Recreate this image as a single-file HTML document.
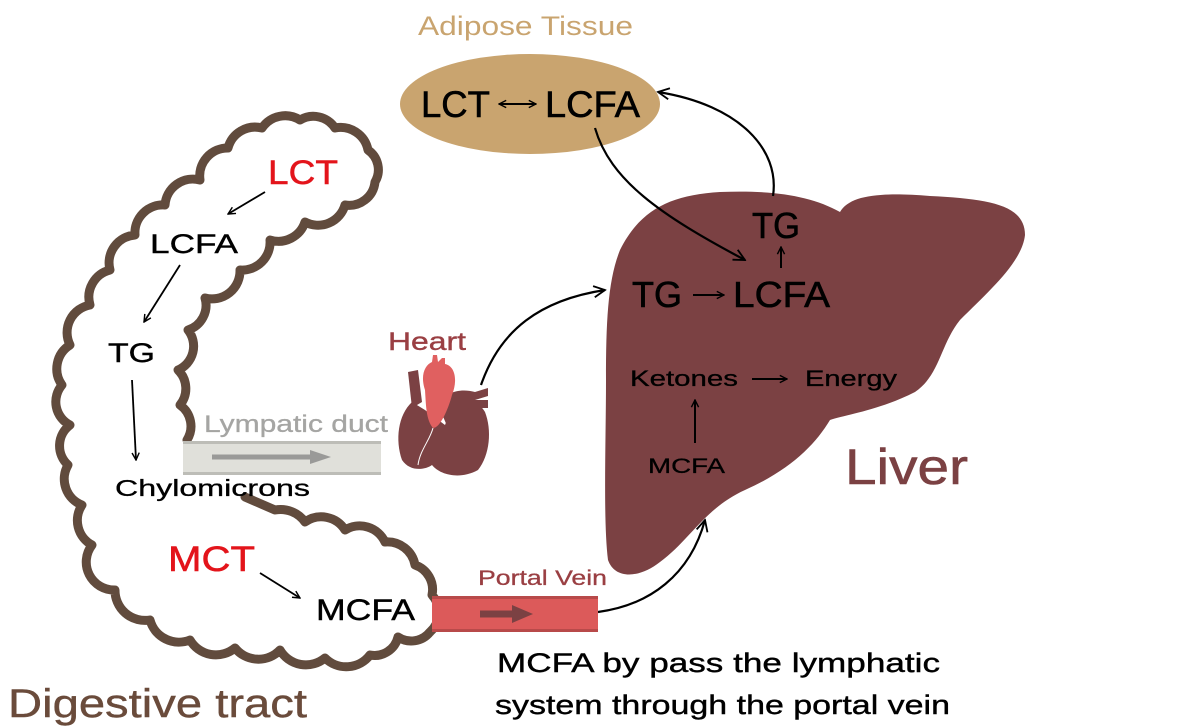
<!DOCTYPE html>
<html><head><meta charset="utf-8"><style>
html,body{margin:0;padding:0;background:#fff;}
svg{display:block;}
text{font-family:"Liberation Sans",sans-serif;}
</style></head><body>
<svg width="1200" height="728" viewBox="0 0 1200 728" xmlns="http://www.w3.org/2000/svg">
<defs>
<marker id="ah" viewBox="0 0 10 10" refX="9" refY="5" markerWidth="9" markerHeight="9" orient="auto-start-reverse" markerUnits="userSpaceOnUse">
<path d="M1 1 L9 5 L1 9" fill="none" stroke="#000" stroke-width="1.6"/>
</marker>
<marker id="ah2" viewBox="0 0 10 10" refX="9" refY="5" markerWidth="14" markerHeight="14" orient="auto" markerUnits="userSpaceOnUse">
<path d="M1 1 L9 5 L1 9" fill="none" stroke="#000" stroke-width="1.3"/>
</marker>
</defs>

<!-- Adipose -->
<ellipse cx="530" cy="104" rx="130" ry="50" fill="#c9a46f"/>
<text x="418" y="35" font-size="27" fill="#c9a46f" textLength="215" lengthAdjust="spacingAndGlyphs">Adipose Tissue</text>
<text x="421" y="117" font-size="37" fill="#000" stroke="#000" stroke-width="0.6" textLength="69" lengthAdjust="spacingAndGlyphs">LCT</text>
<path d="M499 104 L536 104" stroke="#000" stroke-width="2" marker-end="url(#ah)" marker-start="url(#ah)"/>
<text x="545" y="117" font-size="37" fill="#000" stroke="#000" stroke-width="0.6" textLength="95" lengthAdjust="spacingAndGlyphs">LCFA</text>

<!-- Liver -->
<path d="M620 250 C640 210 670 195 720 192 C770 190 810 195 840 212 C850 195 880 192 930 196 C990 199 1025 205 1025 235 C1022 262 990 290 960 320 C940 345 940 375 915 392 C880 410 845 415 830 420 C815 445 790 470 745 490 C705 508 690 540 660 562 C640 578 615 580 608 560 C603 520 606 440 606 380 C606 320 608 280 620 250 Z" fill="#7b4143"/>
<text x="752" y="238" font-size="36" fill="#000" stroke="#000" stroke-width="0.6" textLength="48" lengthAdjust="spacingAndGlyphs">TG</text>
<path d="M781 268 L781 247" stroke="#000" stroke-width="2" marker-end="url(#ah)"/>
<text x="632" y="307" font-size="36" fill="#000" stroke="#000" stroke-width="0.6" textLength="50" lengthAdjust="spacingAndGlyphs">TG</text>
<path d="M693 295 L724 295" stroke="#000" stroke-width="2" marker-end="url(#ah)"/>
<text x="733" y="307" font-size="36" fill="#000" stroke="#000" stroke-width="0.6" textLength="97" lengthAdjust="spacingAndGlyphs">LCFA</text>
<text x="630" y="386" font-size="22" fill="#000" stroke="#000" stroke-width="0.3" textLength="108" lengthAdjust="spacingAndGlyphs">Ketones</text>
<path d="M752 379 L787 379" stroke="#000" stroke-width="2" marker-end="url(#ah)"/>
<text x="805" y="386" font-size="22" fill="#000" stroke="#000" stroke-width="0.3" textLength="92" lengthAdjust="spacingAndGlyphs">Energy</text>
<path d="M695 443 L695 400" stroke="#000" stroke-width="2" marker-end="url(#ah)"/>
<text x="648" y="473" font-size="21" fill="#000" stroke="#000" stroke-width="0.3" textLength="77" lengthAdjust="spacingAndGlyphs">MCFA</text>
<text x="845" y="484" font-size="50" fill="#7b4143" stroke="#7b4143" stroke-width="0.6" textLength="123" lengthAdjust="spacingAndGlyphs">Liver</text>

<!-- curved arrows -->
<path d="M595 128 C610 180 660 215 745 260" fill="none" stroke="#000" stroke-width="2.2" marker-end="url(#ah2)"/>
<path d="M773 196 C780 150 740 105 658 92" fill="none" stroke="#000" stroke-width="2.2" marker-end="url(#ah2)"/>
<path d="M481 385 C500 330 540 300 605 290" fill="none" stroke="#000" stroke-width="2.2" marker-end="url(#ah2)"/>
<path d="M598 612 C650 605 690 575 705 520" fill="none" stroke="#000" stroke-width="2.2" marker-end="url(#ah2)"/>

<!-- Gut outline -->
<path d="M187 440 A26 26 0 0 0 180 405 A26 26 0 0 0 178 370 A26 26 0 0 0 188 330 A26 26 0 0 0 205 298 A28 28 0 0 0 240 270 A28 28 0 0 0 270 240 A28 28 0 0 0 305 222 A28 28 0 0 0 345 205 A26 26 0 0 0 375 182 A24 24 0 0 0 368 150 A28 28 0 0 0 335 128 A26 26 0 0 0 300 120 A28 28 0 0 0 262 128 A28 28 0 0 0 228 148 A28 28 0 0 0 200 180 A28 28 0 0 0 165 205 A28 28 0 0 0 135 235 A28 28 0 0 0 110 270 A28 28 0 0 0 90 305 A28 28 0 0 0 70 345 A28 28 0 0 0 62 385 A26 26 0 0 0 70 425 A26 26 0 0 0 68 465 A28 28 0 0 0 82 505 A28 28 0 0 0 92 545 A28 28 0 0 0 115 590 A30 30 0 0 0 150 620 A30 30 0 0 0 190 640 A30 30 0 0 0 235 648 A30 30 0 0 0 280 650 A30 30 0 0 0 325 658 A30 30 0 0 0 370 655 A24 24 0 0 0 398 637 A24 24 0 0 0 430 632 A26 26 0 0 0 432 595 A26 26 0 0 0 415 565 A28 28 0 0 0 385 542 A28 28 0 0 0 345 530 A28 28 0 0 0 305 522 A30 30 0 0 0 275 510 L245 497" fill="none" stroke="#614b3d" stroke-width="9" stroke-linecap="round" stroke-linejoin="round"/>

<text x="268" y="184" font-size="34" fill="#e3141b" stroke="#e3141b" stroke-width="0.5" textLength="70" lengthAdjust="spacingAndGlyphs">LCT</text>
<path d="M265 192 L228 214" stroke="#000" stroke-width="1.8" marker-end="url(#ah)"/>
<text x="150" y="253" font-size="27" fill="#000" stroke="#000" stroke-width="0.4" textLength="88" lengthAdjust="spacingAndGlyphs">LCFA</text>
<path d="M180 265 L144 322" stroke="#000" stroke-width="1.8" marker-end="url(#ah)"/>
<text x="108" y="362" font-size="27" fill="#000" stroke="#000" stroke-width="0.4" textLength="47" lengthAdjust="spacingAndGlyphs">TG</text>
<path d="M132 380 L136 460" stroke="#000" stroke-width="1.8" marker-end="url(#ah)"/>
<text x="115" y="496" font-size="23" fill="#000" stroke="#000" stroke-width="0.3" textLength="195" lengthAdjust="spacingAndGlyphs">Chylomicrons</text>
<text x="168" y="571" font-size="35" fill="#e3141b" stroke="#e3141b" stroke-width="0.5" textLength="87" lengthAdjust="spacingAndGlyphs">MCT</text>
<path d="M260 573 L300 598" stroke="#000" stroke-width="1.8" marker-end="url(#ah)"/>
<text x="316" y="620" font-size="30" fill="#000" stroke="#000" stroke-width="0.4" textLength="99" lengthAdjust="spacingAndGlyphs">MCFA</text>
<text x="8" y="717" font-size="40" fill="#6a4b3b" stroke="#6a4b3b" stroke-width="0.4" textLength="299" lengthAdjust="spacingAndGlyphs">Digestive tract</text>

<!-- Lymphatic duct -->
<text x="204" y="432" font-size="24" fill="#a5a5a3" stroke="#a5a5a3" stroke-width="0.3" textLength="184" lengthAdjust="spacingAndGlyphs">Lympatic duct</text>
<rect x="183" y="443" width="198" height="31" fill="#e0e0da"/>
<rect x="183" y="441" width="198" height="3" fill="#bdbdb7"/>
<rect x="183" y="472" width="198" height="3" fill="#bdbdb7"/>
<path d="M212 457 L312 457" stroke="#9a9a98" stroke-width="5"/>
<path d="M310 450 L331 457 L310 464 Z" fill="#9a9a98"/>

<!-- Portal vein -->
<text x="478" y="585" font-size="21" fill="#9a3f43" stroke="#9a3f43" stroke-width="0.3" textLength="129" lengthAdjust="spacingAndGlyphs">Portal Vein</text>
<rect x="432" y="596" width="166" height="36" fill="#dc5a5a"/>
<rect x="432" y="596" width="166" height="3" fill="#b84a4a"/>
<rect x="432" y="629" width="166" height="3" fill="#b84a4a"/>
<path d="M480 614 L515 614" stroke="#7b4143" stroke-width="7"/>
<path d="M512 605 L533 614 L512 623 Z" fill="#7b4143"/>

<text x="497" y="672" font-size="27" fill="#000" stroke="#000" stroke-width="0.4" textLength="443" lengthAdjust="spacingAndGlyphs">MCFA by pass  the lymphatic</text>
<text x="495" y="714" font-size="27" fill="#000" stroke="#000" stroke-width="0.4" textLength="455" lengthAdjust="spacingAndGlyphs">system through the portal vein</text>

<!-- Heart -->
<text x="388" y="350" font-size="25" fill="#9a3f43" stroke="#9a3f43" stroke-width="0.4" textLength="78" lengthAdjust="spacingAndGlyphs">Heart</text>
<g fill="#7b4143">
<path d="M408 372 L418 370 L422 402 L412 408 Z"/>
<path d="M412 402 C398 415 395 440 402 460 C410 472 425 470 432 465 C440 475 460 480 478 470 C490 455 492 430 485 412 C478 400 465 395 455 400 L445 425 L425 410 Z"/>
<path d="M438 405 C445 392 460 388 475 392 L488 388 L488 396 L475 400 L488 400 L488 408 L470 408 C462 412 455 420 448 428 Z"/>
</g>
<path d="M425 390 C420 375 425 365 432 362 L433 355 L437 355 L438 362 L442 358 L445 358 L445 364 C455 366 458 380 452 395 C448 410 440 428 433 428 C426 420 426 405 425 390 Z" fill="#e06060"/>
<path d="M433 428 C430 440 420 450 418 465" stroke="#fff" stroke-width="1" fill="none"/>
</svg>
</body></html>
